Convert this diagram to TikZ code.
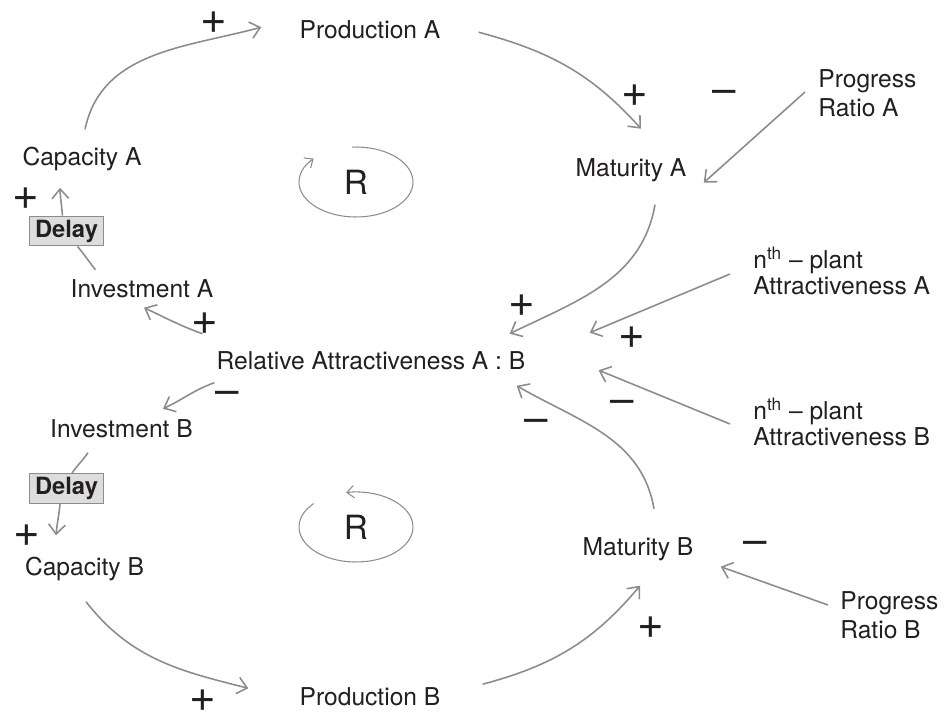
\documentclass[tikz,border=0pt]{standalone}
\usepackage{fontspec}
\setmainfont{TeX Gyre Heros}
\usepackage{tikz}
\usetikzlibrary{arrows.meta, calc}
\definecolor{ink}{RGB}{35,31,32}
\definecolor{linkgray}{RGB}{140,140,140}
\definecolor{delayfill}{RGB}{221,221,221}

\begin{document}
\begin{tikzpicture}[x=0.02cm, y=0.02cm,
        every node/.style={text=ink, inner sep=0pt},
        var/.style={font=\fontsize{14}{16.5}\selectfont, anchor=base},
        ext/.style={font=\fontsize{14}{#1}\selectfont, align=left, anchor=west},
        plus/.style={font=\fontsize{26}{26}\selectfont},
        minus/.style={font=\fontsize{24}{24}\selectfont},
        delaybox/.style={draw=linkgray, fill=delayfill, line width=0.6pt, minimum width=42.5pt, minimum height=17pt, font=\fontsize{13.5}{13.5}\selectfont\bfseries},
        link/.style={draw=linkgray, line width=0.9pt},
        arrow/.style={link, -{Straight Barb[length=5.5pt, width=9.5pt]}},
        loop/.style={draw=linkgray, line width=0.6pt, -{Straight Barb[length=4pt, width=7pt]}}]

        \useasboundingbox (0,0) rectangle (950,-717);

        % переменные контура A
        \node[var] (prodA) at (370,-38)  {Production A};
        \node[var] (matA)  at (631,-176) {Maturity A};
        \node[var] (capA)  at (82,-165)  {Capacity A};
        \node[var] (invA)  at (142,-297) {Investment A};
        \node[delaybox] (delayA) at (66.5,-231) {Delay};

        % центр
        \node[var] (relAB) at (371,-369) {Relative Attractiveness A : B};

        % переменные контура B
        \node[var] (invB)  at (121.5,-437) {Investment B};
        \node[delaybox] (delayB) at (66.5,-488.5) {Delay};
        \node[var] (capB)  at (84.5,-575) {Capacity B};
        \node[var] (prodB) at (370,-705) {Production B};
        \node[var] (matB)  at (638,-555) {Maturity B};

        % внешние параметры справа
        \node[ext=16.5] (progA) at (818,-93)  {Progress\\Ratio A};
        \node[ext=14.5] (nthA)  at (753,-271) {n\textsuperscript{th} – plant\\Attractiveness A};
        \node[ext=14.5] (nthB)  at (753,-422) {n\textsuperscript{th} – plant\\Attractiveness B};
        \node[ext=16.5] (progB) at (840,-615) {Progress\\Ratio B};

        % петли R
        \node[font=\fontsize{19}{19}\selectfont] (loopA) at (356,-182) {R};
        \node[font=\fontsize{19}{19}\selectfont] (loopB) at (356,-527) {R};
        \draw[loop] ($(loopA)+(94:57 and 35)$) arc[start angle=94, end angle=-222, x radius=57, y radius=35];
        \draw[loop] ($(loopB)+(138:57 and 35)$) arc[start angle=138, end angle=460, x radius=57, y radius=35];

        % связи контура A
        \draw[arrow] ($(capA.north)+(3,17)$) to[out=78, in=195] ($(prodA.west)+(-38,2)$);
        \draw[arrow] ($(prodA.east)+(38,-3)$) to[out=-15, in=132] ($(matA.north)+(10,29)$);
        \draw[arrow] ($(progA.west)+(-13,1)$) -- ($(matA.north east)+(17,-25)$);
        \draw[arrow] ($(matA.south)+(24,-23)$) to[out=-100, in=26] ($(relAB.north east)+(-16,17)$);
        \draw[arrow] ($(relAB.north west)+(-14,17)$) to[out=160, in=-25] ($(invA.south)+(2,-10)$);
        \draw[link] ($(invA.north west)+(25,9)$) to[out=128, in=-50] ($(delayA.south)+(11,0)$);
        \draw[arrow] ($(delayA.north)+(-4,0)$) to[out=95, in=-88] ($(capA.south)+(-22,-17)$);

        % внешние входы
        \draw[arrow] ($(nthA.west)+(-23,-3)$) -- ($(relAB.north east)+(64,18)$);
        \draw[arrow] ($(nthB.west)+(-23,-2)$) -- ($(relAB.east)+(73,-10)$);

        % связи контура B
        \draw[arrow] ($(relAB.south west)+(-2,-13)$) to[out=-160, in=25] ($(invB.north)+(41.5,10)$);
        \draw[link] ($(invB.south)+(-33.5,-15)$) to[out=-125, in=55] ($(delayB.north)+(5.5,0)$);
        \draw[arrow] ($(delayB.south)+(-6.5,0)$) to[out=-95, in=85] ($(capB.north)+(-28.5,21)$);
        \draw[arrow] ($(capB.south)+(1.5,-21)$) to[out=-52, in=166] ($(prodB.west)+(-51,8)$);
        \draw[arrow] ($(prodB.east)+(42,12)$) to[out=15, in=-130] ($(matB.south)+(2,-25)$);
        \draw[arrow] ($(progB.west)+(-12,10)$) -- ($(matB.south east)+(27,-6)$);
        \draw[arrow] ($(matB.north)+(16,28)$) to[out=100, in=-30] ($(relAB.south east)+(-9,-16)$);

        % полярности
        \node[plus]  (sCP) at (214,-23)  {+};
        \node[plus]  (sPM) at (635,-96)  {+};
        \node[minus] (sRM) at (724,-97)  {–};
        \node[plus]  (sIC) at (26,-199)  {+};
        \node[plus]  (sRI) at (205,-324) {+};
        \node[plus]  (sMR) at (522,-306) {+};
        \node[plus]  (sNA) at (632,-338) {+};
        \node[minus] (sRJ) at (227,-398) {–};
        \node[minus] (sNB) at (622,-407) {–};
        \node[minus] (sMS) at (536,-426) {–};
        \node[plus]  (sJC) at (27,-536)  {+};
        \node[minus] (sRB) at (755,-548) {–};
        \node[plus]  (sPN) at (651,-628) {+};
        \node[plus]  (sCQ) at (203,-701) {+};
    \end{tikzpicture}
\end{document}
